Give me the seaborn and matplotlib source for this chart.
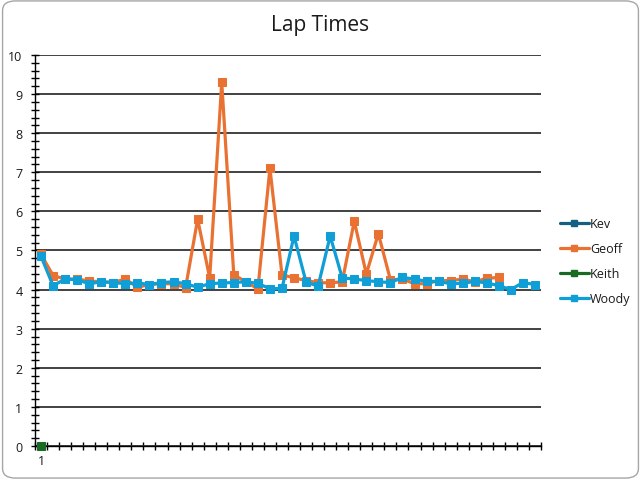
import numpy as np
import pandas as pd
import matplotlib
matplotlib.use("Agg")
import matplotlib.pyplot as plt
import seaborn as sns
from matplotlib.lines import Line2D
from matplotlib.patches import FancyBboxPatch

# Lap data (lap numbers 1..42)
laps = list(range(1, 43))
kev = []
geoff = [4.9, 4.36, 4.27, 4.27, 4.22, 4.2, 4.18, 4.27, 4.06, 4.13,
         4.15, 4.15, 4.05, 5.8, 4.3, 9.3, 4.38, 4.2, 4.02, 7.1,
         4.38, 4.3, 4.23, 4.18, 4.17, 4.2, 5.75, 4.4, 5.43, 4.25,
         4.27, 4.15, 4.15, 4.23, 4.23, 4.27, 4.2, 4.29, 4.31]
keith = [0]
woody = [4.85, 4.1, 4.27, 4.25, 4.15, 4.2, 4.18, 4.15, 4.17, 4.13,
         4.18, 4.2, 4.15, 4.06, 4.15, 4.17, 4.18, 4.2, 4.16, 4.02,
         4.03, 5.37, 4.19, 4.09, 5.37, 4.3, 4.27, 4.23, 4.2, 4.18,
         4.31, 4.27, 4.21, 4.21, 4.15, 4.16, 4.21, 4.17, 4.1, 4.0,
         4.18, 4.13]

names = ["Kev", "Geoff", "Keith", "Woody"]
colors = ["#156082", "#E97132", "#196B24", "#0F9ED5"]

rows = []
for name, vals in zip(names, [kev, geoff, keith, woody]):
    for lap, v in zip(laps, vals):
        rows.append({"Lap": lap, "Time": v, "Driver": name})
df = pd.DataFrame(rows)

sns.set_style("white")
plt.rcParams["font.family"] = ["Open Sans", "DejaVu Sans"]
plt.rcParams["text.color"] = "#1a1a1a"
plt.rcParams["xtick.color"] = "black"
plt.rcParams["ytick.color"] = "black"
plt.rcParams["xtick.labelcolor"] = "#1a1a1a"
plt.rcParams["ytick.labelcolor"] = "#1a1a1a"

fig = plt.figure(figsize=(6.41, 4.81), dpi=100)
fig.patches.append(FancyBboxPatch((0.004, 0.004), 0.992, 0.992, boxstyle="round,pad=0,rounding_size=0.02",
                                  transform=fig.transFigure, facecolor="none", edgecolor="#a6a6a6",
                                  lw=1, zorder=-1))
ax = fig.add_axes([0.0546, 0.0707, 0.7894, 0.8129])
ax.patch.set_alpha(0)

for name, c in zip(names, colors):
    sub = df[df["Driver"] == name]
    if len(sub):
        sns.lineplot(data=sub, x="Lap", y="Time", color=c, marker="s", markersize=6,
                     markeredgecolor=c, linewidth=2.3, ax=ax, clip_on=False, zorder=3)

ax.set_xlim(0.5, 42.5)
ax.set_ylim(0, 10)
ax.set_yticks(range(0, 11))
ax.set_yticks(np.arange(0, 10.01, 0.2), minor=True)
ax.yaxis.grid(True, which="major", color="#333333", lw=1.3)
ax.set_axisbelow(True)
ax.set_xticks([1], ["1"])
ax.set_xticks(np.arange(0.5, 43, 1), minor=True)
ax.tick_params(axis="x", which="major", length=0, pad=6, labelsize=9)
ax.tick_params(axis="x", which="minor", direction="inout", length=6, width=1, bottom=True)
ax.tick_params(axis="y", which="both", direction="inout", length=6, width=1, left=True, labelsize=9, pad=6)
for s in ["top", "right"]:
    ax.spines[s].set_visible(False)
for s in ["left", "bottom"]:
    ax.spines[s].set_color("black")
    ax.spines[s].set_linewidth(1)
ax.set_xlabel("")
ax.set_ylabel("")

fig.text(0.5, 0.948, "Lap Times", ha="center", va="center", fontsize=15)

handles = [Line2D([], [], color=c, marker="s", markersize=5, lw=2.3) for c in colors]
fig.legend(handles, names, loc="center left", bbox_to_anchor=(0.856, 0.455), frameon=False,
           fontsize=9, handlelength=2.3, handletextpad=0.1, labelspacing=0.95)

fig.savefig("out.png", dpi=100)
